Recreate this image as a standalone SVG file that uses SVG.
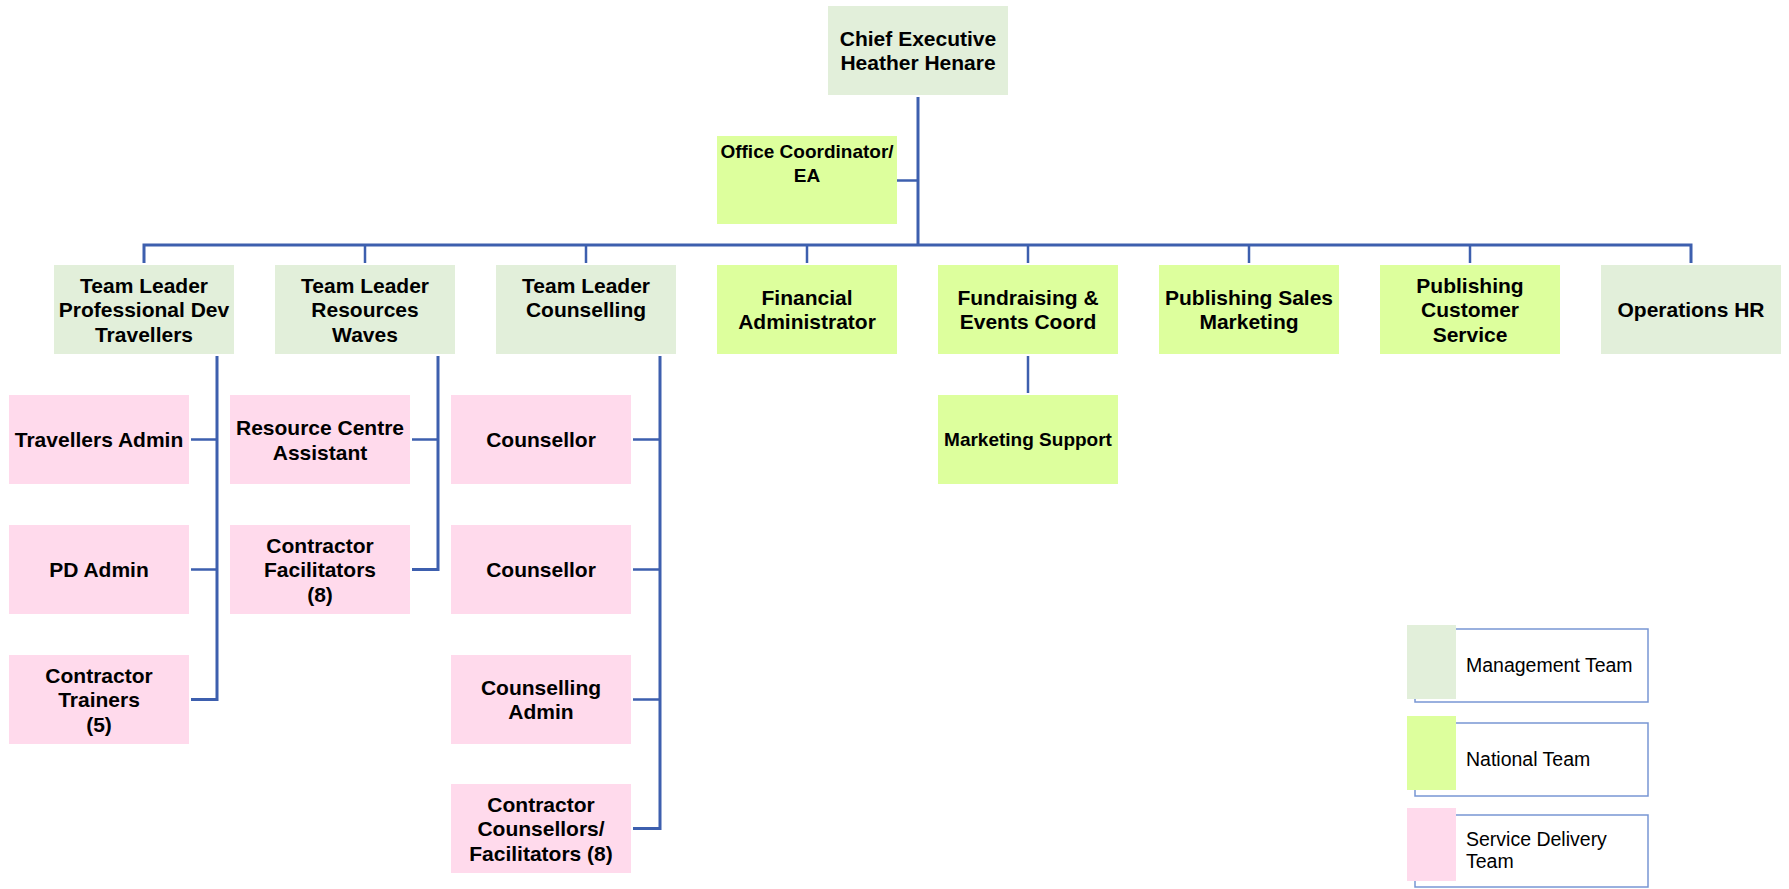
<svg xmlns="http://www.w3.org/2000/svg" width="1789" height="889" viewBox="0 0 1789 889">
<style>
.mg{fill:#E2EFDA}
.nt{fill:#DDFF9D}
.sd{fill:#FFDAEC}
.t{font-family:"Liberation Sans",Arial,sans-serif;font-weight:bold;font-size:21px;fill:#000;text-anchor:middle}
.c{font-family:"Liberation Sans",Arial,sans-serif;font-weight:bold;font-size:19px;fill:#000;text-anchor:middle}
.lg{font-family:"Liberation Sans",Arial,sans-serif;font-size:19.5px;fill:#000}
.ln{fill:none;stroke:#3D5FAE;stroke-width:3;stroke-linecap:butt;stroke-linejoin:miter}
.ls{fill:none;stroke:#3D5FAE;stroke-width:2.5}
.lo{fill:#fff;stroke:#7896D4;stroke-width:1.5}
</style>
<rect width="1789" height="889" fill="#fff"/>
<g id="connectors">
<path class="ln" d="M918 97 V245"/>
<path class="ls" d="M897 180.5 H918"/>
<path class="ln" d="M144 263 V245 H1691 V263"/>
<path class="ls" d="M365 245 V263 M586 245 V263 M807 245 V263 M1028 245 V263 M1249 245 V263 M1470 245 V263"/>
<path class="ls" d="M1028 356 V393"/>
<path class="ln" d="M217 356 V699.5 H191"/>
<path class="ls" d="M191 439.5 H217 M191 569.5 H217"/>
<path class="ln" d="M438 356 V569.5 H412"/>
<path class="ls" d="M412 439.5 H438"/>
<path class="ln" d="M660 356 V828.5 H633"/>
<path class="ls" d="M633 439.5 H660 M633 569.5 H660 M633 699.5 H660"/>
</g>
<g id="chief"><rect class="mg" x="828" y="6" width="180" height="89"/><text class="t" x="918" y="45.75">Chief Executive</text><text class="t" x="918" y="70.25">Heather Henare</text></g>
<g id="office"><rect class="nt" x="717" y="136" width="180" height="88"/><text class="c" x="807" y="158">Office Coordinator/</text><text class="c" x="807" y="182">EA</text></g>
<g id="tl-pd"><rect class="mg" x="54" y="265" width="180" height="89"/><text class="t" x="144" y="292.5">Team Leader</text><text class="t" x="144" y="317">Professional Dev</text><text class="t" x="144" y="341.5">Travellers</text></g>
<g id="tl-res"><rect class="mg" x="275" y="265" width="180" height="89"/><text class="t" x="365" y="292.5">Team Leader</text><text class="t" x="365" y="317">Resources</text><text class="t" x="365" y="341.5">Waves</text></g>
<g id="tl-coun"><rect class="mg" x="496" y="265" width="180" height="89"/><text class="t" x="586" y="292.5">Team Leader</text><text class="t" x="586" y="317">Counselling</text></g>
<g id="fin"><rect class="nt" x="717" y="265" width="180" height="89"/><text class="t" x="807" y="304.75">Financial</text><text class="t" x="807" y="329.25">Administrator</text></g>
<g id="fund"><rect class="nt" x="938" y="265" width="180" height="89"/><text class="t" x="1028" y="304.75">Fundraising &amp;</text><text class="t" x="1028" y="329.25">Events Coord</text></g>
<g id="pubsales"><rect class="nt" x="1159" y="265" width="180" height="89"/><text class="t" x="1249" y="304.75">Publishing Sales</text><text class="t" x="1249" y="329.25">Marketing</text></g>
<g id="pubcust"><rect class="nt" x="1380" y="265" width="180" height="89"/><text class="t" x="1470" y="292.5">Publishing</text><text class="t" x="1470" y="317">Customer</text><text class="t" x="1470" y="341.5">Service</text></g>
<g id="ops"><rect class="mg" x="1601" y="265" width="180" height="89"/><text class="t" x="1691" y="317">Operations HR</text></g>
<g id="marketing"><rect class="nt" x="938" y="395" width="180" height="89"/><text class="c" x="1028" y="446.3">Marketing Support</text></g>
<g id="trav-admin"><rect class="sd" x="9" y="395" width="180" height="89"/><text class="t" x="99" y="447">Travellers Admin</text></g>
<g id="pd-admin"><rect class="sd" x="9" y="525" width="180" height="89"/><text class="t" x="99" y="577">PD Admin</text></g>
<g id="trainers"><rect class="sd" x="9" y="655" width="180" height="89"/><text class="t" x="99" y="682.5">Contractor</text><text class="t" x="99" y="707">Trainers</text><text class="t" x="99" y="731.5">(5)</text></g>
<g id="res-centre"><rect class="sd" x="230" y="395" width="180" height="89"/><text class="t" x="320" y="435">Resource Centre</text><text class="t" x="320" y="459.5">Assistant</text></g>
<g id="facilitators"><rect class="sd" x="230" y="525" width="180" height="89"/><text class="t" x="320" y="552.5">Contractor</text><text class="t" x="320" y="577">Facilitators</text><text class="t" x="320" y="601.5">(8)</text></g>
<g id="counsellor1"><rect class="sd" x="451" y="395" width="180" height="89"/><text class="t" x="541" y="447">Counsellor</text></g>
<g id="counsellor2"><rect class="sd" x="451" y="525" width="180" height="89"/><text class="t" x="541" y="577">Counsellor</text></g>
<g id="coun-admin"><rect class="sd" x="451" y="655" width="180" height="89"/><text class="t" x="541" y="694.75">Counselling</text><text class="t" x="541" y="719.25">Admin</text></g>
<g id="contr-coun"><rect class="sd" x="451" y="784" width="180" height="89"/><text class="t" x="541" y="811.5">Contractor</text><text class="t" x="541" y="836">Counsellors/</text><text class="t" x="541" y="860.5">Facilitators (8)</text></g>
<g id="legend">
<rect class="lo" x="1415" y="629" width="233" height="73"/>
<rect class="mg" x="1407" y="625" width="49" height="74"/>
<text class="lg" x="1466" y="672">Management Team</text>
<rect class="lo" x="1415" y="723" width="233" height="73"/>
<rect class="nt" x="1407" y="716" width="49" height="74"/>
<text class="lg" x="1466" y="766">National Team</text>
<rect class="lo" x="1415" y="815" width="233" height="72"/>
<rect class="sd" x="1407" y="808" width="49" height="73"/>
<text class="lg" x="1466" y="846">Service Delivery</text>
<text class="lg" x="1466" y="868">Team</text>
</g>
</svg>
